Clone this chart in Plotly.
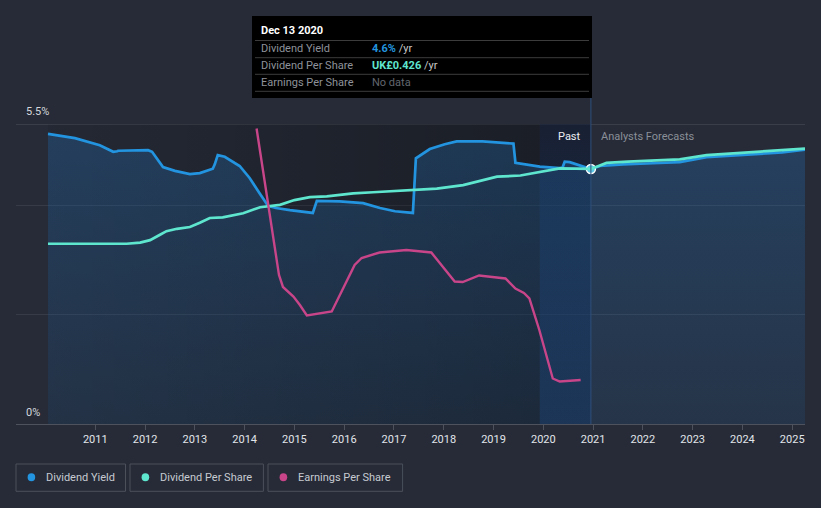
import plotly.graph_objects as go

# ---------------- data (decimal years) ----------------
yield_x = [2010.05, 2010.59, 2011.09, 2011.26, 2011.36, 2011.44, 2011.46, 2012.06, 2012.14,
           2012.36, 2012.60, 2012.90, 2013.10, 2013.36, 2013.40, 2013.46, 2013.60, 2013.90,
           2014.10, 2014.30, 2014.47, 2014.63, 2014.91, 2015.37, 2015.45, 2015.91, 2016.38,
           2016.72, 2017.02, 2017.38, 2017.44, 2017.72, 2018.02, 2018.26, 2018.78, 2019.40,
           2019.44, 2019.93, 2020.33, 2020.39, 2020.43, 2020.53, 2020.73, 2020.956]
yield_pct = [5.32, 5.24, 5.11, 5.04, 4.99, 5.00, 5.01, 5.02, 4.99,
             4.71, 4.64, 4.58, 4.60, 4.68, 4.76, 4.93, 4.90, 4.73,
             4.51, 4.23, 4.00, 3.96, 3.92, 3.87, 4.09, 4.08, 4.05,
             3.96, 3.90, 3.87, 4.87, 5.04, 5.13, 5.18, 5.18, 5.14,
             4.79, 4.72, 4.69, 4.71, 4.81, 4.80, 4.74, 4.675]
yield_fc_x = [2021.14, 2021.60, 2022.20, 2022.74, 2023.28, 2023.80, 2024.35, 2024.80, 2025.257]
yield_fc = [4.73, 4.76, 4.78, 4.80, 4.89, 4.92, 4.95, 4.98, 5.03]

dps_x = [2010.05, 2011.63, 2011.90, 2012.10, 2012.30, 2012.43, 2012.64, 2012.90, 2013.10,
         2013.30, 2013.56, 2013.97, 2014.31, 2014.51, 2014.71, 2015.00, 2015.31, 2015.65,
         2016.18, 2016.58, 2017.39, 2017.86, 2018.39, 2018.73, 2019.07, 2019.54, 2019.94,
         2020.33, 2020.956]
dps = [0.301, 0.301, 0.303, 0.307, 0.316, 0.322, 0.326, 0.329, 0.336,
       0.344, 0.345, 0.352, 0.362, 0.364, 0.366, 0.374, 0.379, 0.380,
       0.385, 0.387, 0.391, 0.393, 0.399, 0.406, 0.413, 0.415, 0.421,
       0.427, 0.426]
dps_fc_x = [2021.27, 2021.70, 2022.20, 2022.74, 2023.28, 2023.80, 2024.35, 2024.80, 2025.257]
dps_fc = [0.436, 0.438, 0.440, 0.442, 0.449, 0.452, 0.455, 0.457, 0.460]

eps_x = [2014.24, 2014.69, 2014.77, 2014.98, 2015.11, 2015.25, 2015.75, 2015.91, 2016.21,
         2016.35, 2016.55, 2016.71, 2017.25, 2017.75, 2018.22, 2018.38, 2018.71, 2019.24,
         2019.44, 2019.61, 2019.72, 2019.92, 2020.19, 2020.33, 2020.75]
eps = [0.591, 0.298, 0.274, 0.255, 0.238, 0.217, 0.225, 0.258, 0.318,
       0.332, 0.338, 0.343, 0.348, 0.343, 0.285, 0.284, 0.297, 0.291,
       0.271, 0.262, 0.251, 0.188, 0.091, 0.085, 0.088]

tick_years = list(range(2011, 2026))
tick_labels = [str(y) for y in tick_years]

X_MIN, X_MAX = 2009.407, 2025.257
PAST_START, BAND_START, NOW = 2010.05, 2019.93, 2020.956

BG = "#262b37"
BLUE = "#2394df"
CYAN = "#5fe6cf"
PINK = "#c8458a"
FONT = "Roboto"

# pixel -> paper helpers (plot area 16..805 x, 124..424 y)
def px(x):
    return (x - 16) / 789.0

def py(y):
    return (424 - y) / 300.0

fig = go.Figure()

# past darkening (horizontal gradient)
fig.add_trace(go.Scatter(
    x=[PAST_START, BAND_START, BAND_START, PAST_START, PAST_START],
    y=[0, 0, 5.5, 5.5, 0], mode="lines", line=dict(width=0),
    fill="toself",
    fillgradient=dict(type="horizontal", start=PAST_START, stop=BAND_START,
                      colorscale=[[0, "rgba(0,0,0,0.06)"], [1, "rgba(0,0,0,0.30)"]]),
    hoverinfo="skip", showlegend=False))

# last-year band (vertical gradient)
fig.add_trace(go.Scatter(
    x=[BAND_START, NOW, NOW, BAND_START, BAND_START],
    y=[0, 0, 5.5, 5.5, 0], mode="lines", line=dict(width=0),
    fill="toself",
    fillgradient=dict(type="vertical", start=0, stop=5.5,
                      colorscale=[[0, "rgba(16,46,88,0.5)"], [1, "rgba(10,22,48,0.5)"]]),
    hoverinfo="skip", showlegend=False))

# dividend yield with area fill
all_yx = yield_x + yield_fc_x
all_y = yield_pct + yield_fc
fig.add_trace(go.Scatter(
    x=all_yx, y=all_y, mode="lines",
    line=dict(color=BLUE, width=2.7),
    fill="tozeroy",
    fillgradient=dict(type="vertical", start=0, stop=5.5,
                      colorscale=[[0, "rgba(35,120,200,0.12)"], [1, "rgba(35,120,200,0.28)"]]),
    name="Dividend Yield", showlegend=False))

# dividend per share
fig.add_trace(go.Scatter(
    x=dps_x + dps_fc_x, y=dps + dps_fc, mode="lines",
    line=dict(color=CYAN, width=2.7), yaxis="y2",
    name="Dividend Per Share", showlegend=False))

# earnings per share
fig.add_trace(go.Scatter(
    x=eps_x, y=eps, mode="lines",
    line=dict(color=PINK, width=2.4), yaxis="y3",
    name="Earnings Per Share", showlegend=False))

# current point marker
fig.add_trace(go.Scatter(
    x=[yield_x[-1]], y=[yield_pct[-1]], mode="markers",
    marker=dict(size=9, color="#5cc9e6", line=dict(color="#ffffff", width=1.5)),
    hoverinfo="skip", showlegend=False))

shapes = []
# top 5.5% line
shapes.append(dict(type="line", xref="paper", yref="y", x0=0, x1=1, y0=5.5, y1=5.5,
                   line=dict(color="#4d525d", width=1), layer="below"))
# cursor line
shapes.append(dict(type="line", xref="x", yref="paper", x0=NOW, x1=NOW, y0=0, y1=py(98),
                   line=dict(color="#2f4f7c", width=1)))
# tooltip box
shapes.append(dict(type="rect", xref="paper", yref="paper", x0=px(252), x1=px(592),
                   y0=py(98), y1=py(16), fillcolor="#000000", line=dict(width=0)))
for ly in [40.5, 57.7, 74.3, 91.3]:
    shapes.append(dict(type="line", xref="paper", yref="paper", x0=px(255), x1=px(589),
                       y0=py(ly), y1=py(ly), line=dict(color="#3c3c3c", width=1)))

# legend boxes
legend_items = [("Dividend Yield", BLUE, 16, 125.5),
                ("Dividend Per Share", CYAN, 130, 263.4),
                ("Earnings Per Share", PINK, 268, 402.6)]
annotations = []
for name, col, bx0, bx1 in legend_items:
    shapes.append(dict(type="rect", xref="paper", yref="paper", x0=px(bx0), x1=px(bx1),
                       y0=py(491.3), y1=py(464), line=dict(color="#4b505b", width=1),
                       fillcolor="rgba(0,0,0,0)"))
    cx = bx0 + 15.4
    shapes.append(dict(type="circle", xref="paper", yref="paper", x0=px(cx - 3.8), x1=px(cx + 3.8),
                       y0=py(477.3 + 4), y1=py(477.3 - 4), fillcolor=col, line=dict(width=0)))
    annotations.append(dict(xref="paper", yref="paper", x=px(bx0 + 28), y=py(477.5), text=name,
                            showarrow=False, xanchor="left", yanchor="middle",
                            font=dict(family=FONT, size=11, color="#c6cad1")))

# axis value labels
annotations.append(dict(xref="paper", yref="paper", x=px(24), y=py(112), text="5.5%",
                        showarrow=False, xanchor="left", yanchor="middle",
                        font=dict(family=FONT, size=11, color="#d5d8dd")))
annotations.append(dict(xref="paper", yref="paper", x=px(24), y=py(412), text="0%",
                        showarrow=False, xanchor="left", yanchor="middle",
                        font=dict(family=FONT, size=11, color="#d5d8dd")))
# past / forecasts
annotations.append(dict(xref="paper", yref="paper", x=px(583), y=py(136), text="Past",
                        showarrow=False, xanchor="right", yanchor="middle",
                        font=dict(family=FONT, size=11, color="#eceef1")))
annotations.append(dict(xref="paper", yref="paper", x=px(599), y=py(136), text="Analysts Forecasts",
                        showarrow=False, xanchor="left", yanchor="middle",
                        font=dict(family=FONT, size=11, color="#8a8f98")))
# tooltip text
annotations.append(dict(xref="paper", yref="paper", x=px(259), y=py(31), text="<b>Dec 13 2020</b>",
                        showarrow=False, xanchor="left", yanchor="middle",
                        font=dict(family=FONT, size=11, color="#ffffff")))
rows = [("Dividend Yield", f"<span style='color:{BLUE}'><b>4.6%</b></span> /yr", 48.3),
        ("Dividend Per Share", f"<span style='color:{CYAN}'><b>UK£0.426</b></span> /yr", 65.7),
        ("Earnings Per Share", "<span style='color:#62666e'>No data</span>", 82.3)]
for lab, val, ry in rows:
    annotations.append(dict(xref="paper", yref="paper", x=px(259), y=py(ry), text=lab,
                            showarrow=False, xanchor="left", yanchor="middle",
                            font=dict(family=FONT, size=11, color="#8e929a")))
    annotations.append(dict(xref="paper", yref="paper", x=px(370), y=py(ry), text=val,
                            showarrow=False, xanchor="left", yanchor="middle",
                            font=dict(family=FONT, size=11, color="#c8c8c8")))

fig.update_layout(
    width=821, height=508,
    margin=dict(l=16, r=16, t=124, b=84),
    paper_bgcolor=BG, plot_bgcolor=BG,
    font=dict(family=FONT, size=11, color="#e2e5ea"),
    showlegend=False,
    xaxis=dict(range=[X_MIN, X_MAX], tickvals=tick_years, ticktext=tick_labels,
               showgrid=False, zeroline=False, showline=True, linecolor="#4d525d", linewidth=1,
               ticks="outside", ticklen=5, tickcolor="#4d525d",
               tickfont=dict(family=FONT, size=11, color="#e2e5ea")),
    yaxis=dict(range=[0, 5.5], tickvals=[2, 4], showticklabels=False,
               showgrid=True, gridcolor="#363b47", gridwidth=1, zeroline=False, fixedrange=True),
    yaxis2=dict(range=[0, 0.501], overlaying="y", visible=False),
    yaxis3=dict(range=[0, 0.6], overlaying="y", visible=False),
    shapes=shapes, annotations=annotations,
)

fig.write_html("out.html")
